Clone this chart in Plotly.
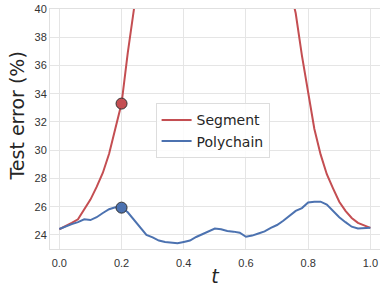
import plotly.graph_objects as go

t = [0.00, 0.02, 0.04, 0.06, 0.08, 0.10, 0.12, 0.14, 0.16, 0.18,
     0.20, 0.22, 0.24, 0.26, 0.28, 0.30, 0.32, 0.34, 0.36, 0.38,
     0.40, 0.42, 0.44, 0.46, 0.48, 0.50, 0.52, 0.54, 0.56, 0.58,
     0.60, 0.62, 0.64, 0.66, 0.68, 0.70, 0.72, 0.74, 0.76, 0.78,
     0.80, 0.82, 0.84, 0.86, 0.88, 0.90, 0.92, 0.94, 0.96, 0.98, 1.00]

segment = [24.4, 24.6, 24.85, 25.1, 25.8, 26.5, 27.4, 28.4, 29.75, 31.5,
           33.3, 36.9, 40.0, 45.0, 51.0, 56.0, 60.0, 63.0, 65.5, 67.0,
           68.0, 68.5, 69.0, 69.2, 69.0, 68.5, 68.0, 67.0, 66.0, 64.5,
           62.5, 60.0, 57.0, 53.0, 49.0, 46.0, 43.5, 41.5, 39.7, 36.7,
           34.0, 31.5, 29.7, 28.3, 27.3, 26.35, 25.7, 25.2, 24.85, 24.65, 24.5]

polychain = [24.42, 24.6, 24.76, 24.9, 25.1, 25.05, 25.25, 25.55, 25.82, 25.96,
             25.93, 25.6, 25.05, 24.5, 24.0, 23.82, 23.6, 23.5, 23.46, 23.4,
             23.5, 23.6, 23.85, 24.05, 24.2, 24.45, 24.4, 24.28, 24.23, 24.15,
             23.87, 23.95, 24.1, 24.25, 24.5, 24.7, 25.0, 25.35, 25.7, 25.9,
             26.3, 26.35, 26.35, 26.15, 25.7, 25.25, 24.9, 24.58, 24.45, 24.5, 24.5]

marker_t = [0.2]
marker_segment = [33.3]
marker_polychain = [25.93]

y_ticks = [24, 26, 28, 30, 32, 34, 36, 38, 40]
x_ticks = [0.0, 0.2, 0.4, 0.6, 0.8, 1.0]
x_tick_labels = ["0.0", "0.2", "0.4", "0.6", "0.8", "1.0"]

RED = "#c44e52"
BLUE = "#4c72b0"

fig = go.Figure()
fig.add_trace(go.Scatter(x=t, y=segment, mode="lines", name="Segment",
                         line=dict(color=RED, width=2)))
fig.add_trace(go.Scatter(x=t, y=polychain, mode="lines", name="Polychain",
                         line=dict(color=BLUE, width=2)))
fig.add_trace(go.Scatter(x=marker_t, y=marker_segment, mode="markers", showlegend=False,
                         marker=dict(color=RED, size=11, line=dict(color="#333333", width=1))))
fig.add_trace(go.Scatter(x=marker_t, y=marker_polychain, mode="markers", showlegend=False,
                         marker=dict(color=BLUE, size=11, line=dict(color="#333333", width=1))))

tickfont = dict(family="Liberation Sans, Arial, sans-serif", size=11, color="#333333")
titlefont = dict(family="DejaVu Sans, sans-serif", size=19, color="#262626")
fig.update_layout(
    width=380, height=287,
    margin=dict(l=50, r=0, t=9, b=38),
    paper_bgcolor="white", plot_bgcolor="white",
    font=dict(family="DejaVu Sans, sans-serif", color="#262626"),
    legend=dict(x=0.32, y=0.607, xanchor="left", yanchor="top",
                bgcolor="rgba(255,255,255,0.85)", bordercolor="#dddddd", borderwidth=1,
                tracegroupgap=0, itemwidth=30,
                font=dict(family="DejaVu Sans, sans-serif", size=14, color="#262626")),
    xaxis=dict(range=[-0.03, 1.031], tickvals=x_ticks, ticktext=x_tick_labels,
               showgrid=True, gridcolor="#e5e5e5", gridwidth=1, zeroline=False,
               showline=True, linecolor="#e0e0e0", linewidth=1, mirror=True,
               tickfont=tickfont, ticks="", automargin=False, ticklabelstandoff=4,
               title=dict(text="<i>t</i>", font=titlefont)),
    yaxis=dict(range=[23, 40], tickvals=y_ticks,
               showgrid=True, gridcolor="#e5e5e5", gridwidth=1, zeroline=False,
               showline=True, linecolor="#e0e0e0", linewidth=1, mirror=True,
               tickfont=tickfont, ticks="", automargin=False),
    annotations=[dict(text="Test error (%)", xref="paper", yref="paper",
                      x=-0.0985, y=0.554, xanchor="center", yanchor="middle",
                      textangle=-90, showarrow=False, font=titlefont)],
)

fig.write_html("out.html", config={"displayModeBar": False},
               post_script="document.body.style.margin='0';document.body.style.padding='0';")
